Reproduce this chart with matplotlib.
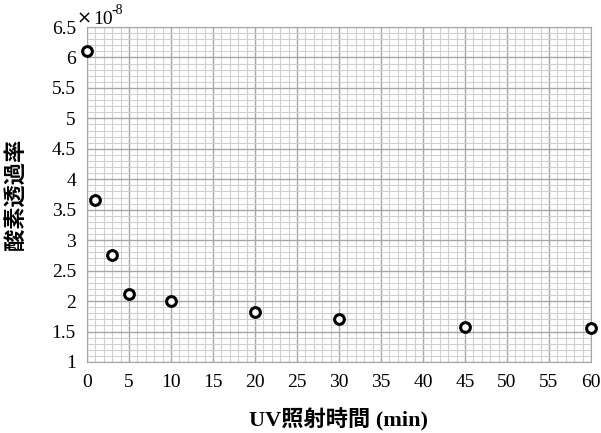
import matplotlib.pyplot as plt
from matplotlib.ticker import MultipleLocator, FuncFormatter

uv_time = [0, 1, 3, 5, 10, 20, 30, 45, 60]
o2_perm = [6.11e-8, 3.66e-8, 2.75e-8, 2.12e-8, 2.00e-8, 1.82e-8, 1.71e-8, 1.58e-8, 1.56e-8]

plt.rcParams['font.family'] = ['Liberation Serif', 'Noto Sans CJK JP']

fig = plt.figure(figsize=(6.01, 4.33), dpi=100)
ax = fig.add_axes([0.1448, 0.164, 0.8385, 0.7736])

ax.plot(uv_time, o2_perm, linestyle='none', marker='o', markersize=7,
        markerfacecolor='white', markeredgecolor='black', markeredgewidth=2.2,
        zorder=5, clip_on=False)

ax.set_xlim(0, 60)
ax.set_ylim(1e-8, 6.5e-8)
ax.xaxis.set_major_locator(MultipleLocator(5))
ax.xaxis.set_minor_locator(MultipleLocator(1))
ax.yaxis.set_major_locator(MultipleLocator(0.5e-8))
ax.yaxis.set_minor_locator(MultipleLocator(0.1e-8))
ax.yaxis.set_major_formatter(FuncFormatter(lambda v, p: '%g' % round(v / 1e-8, 2)))

# exponent label like the spreadsheet axis
fig.text(77 / 601, 1 - 24 / 433, '×', fontsize=13, ha='left', va='baseline',
         family='DejaVu Sans')
fig.text(93 / 601, 1 - 24 / 433, '10', fontsize=14, ha='left', va='baseline')
fig.text(111 / 601, 1 - 14 / 433, '-8', fontsize=10, ha='left', va='baseline')

ax.grid(which='major', color='#a6a6a6', linewidth=1.0)
ax.grid(which='minor', color='#d0d0d0', linewidth=0.8)
ax.set_axisbelow(True)
for s in ax.spines.values():
    s.set_color('#a6a6a6')

ax.tick_params(which='both', length=0, labelsize=14)
ax.tick_params(axis='x', pad=9)
ax.tick_params(axis='y', pad=8)

ax.set_xlabel('UV照射時間 (min)', fontsize=16, fontweight='bold', labelpad=12)
ax.set_ylabel('酸素透過率', fontsize=16, fontweight='bold', labelpad=18,
              family=['Noto Sans CJK JP'])

fig.savefig('out.png', dpi=100)
